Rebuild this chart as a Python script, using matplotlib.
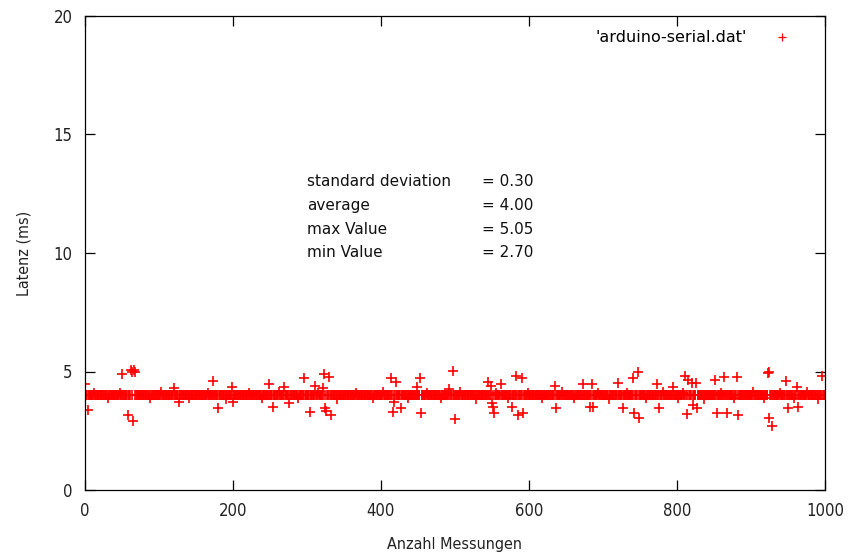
import numpy as np
import matplotlib
matplotlib.use("Agg")
import matplotlib.pyplot as plt

# Latency of 1001 serial round trips (ms); the bulk sits at 4.00 ms
n_samples = 1001
typical_latency = 4.00

# Readings that leave the main band, as (measurement index, latency in ms)
outlier_idx = [0, 4, 50, 62, 64, 66, 68, 58, 65, 120, 127, 173, 180, 198, 200,
               248, 254, 269, 276, 296, 304, 311, 322, 323, 324, 326, 330, 332,
               414, 416, 418, 420, 427, 448, 453, 454, 492, 497, 500,
               545, 549, 550, 551, 553, 562, 577, 582, 585, 590, 592, 635, 636,
               673, 682, 685, 686, 720, 727, 741, 742, 747, 749, 773, 776, 795,
               811, 814, 815, 820, 822, 826, 827, 851, 854, 864, 868, 881, 882,
               923, 924, 925, 928, 947, 950, 962, 964, 996]
outlier_val = [4.47, 3.38, 4.90, 5.05, 5.00, 5.05, 4.98, 3.16, 2.90, 4.30, 3.70, 4.60, 3.46, 4.35, 3.70,
               4.47, 3.50, 4.35, 3.67, 4.73, 3.30, 4.40, 4.30, 4.90, 3.46, 3.33, 4.77, 3.16,
               4.73, 3.30, 3.70, 4.56, 3.46, 4.35, 4.73, 3.25, 4.26, 5.03, 2.98,
               4.56, 4.39, 3.67, 3.50, 3.25, 4.47, 3.50, 4.80, 3.16, 4.73, 3.25, 4.39, 3.46,
               4.47, 3.50, 4.47, 3.50, 4.50, 3.46, 4.73, 3.25, 4.98, 3.04, 4.47, 3.46, 4.35,
               4.80, 3.20, 4.64, 4.50, 3.60, 4.50, 3.46, 4.64, 3.25, 4.77, 3.25, 4.77, 3.16,
               4.95, 5.00, 3.04, 2.70, 4.60, 3.46, 4.35, 3.50, 4.80]

# Small jitter around the typical value that gives the band its ragged edge
jitter_idx = [12, 31, 47, 88, 103, 141, 166, 190, 221, 239, 262, 288, 315, 341,
              366, 389, 403, 437, 462, 481, 507, 528, 556, 571, 598, 617, 644,
              661, 693, 708, 733, 758, 781, 801, 808, 836, 859, 877, 903, 917,
              939, 958, 976, 991]
jitter_val = [4.10, 3.90, 4.10, 3.90, 4.15, 3.90, 4.10, 3.85, 4.10, 3.90, 4.15, 3.90,
              4.10, 3.85, 4.10, 3.90, 4.15, 3.90, 4.10, 3.90, 4.15, 3.85, 4.10, 3.90,
              4.10, 3.90, 4.15, 3.90, 4.10, 3.85, 4.10, 3.90, 4.15, 3.90, 4.10, 3.85,
              4.10, 3.90, 4.15, 3.90, 4.10, 3.90, 4.15, 3.85]

stat_names = ["standard deviation", "average", "max Value", "min Value"]
stat_values = ["= 0.30", "= 4.00", "= 5.05", "= 2.70"]

x_ticks = [0, 200, 400, 600, 800, 1000]
y_ticks = [0, 5, 10, 15, 20]

latency = np.full(n_samples, typical_latency)
latency[jitter_idx] = jitter_val
latency[outlier_idx] = outlier_val
measurement = np.arange(n_samples)

fig = plt.figure(figsize=(8.53, 5.59), dpi=100)
ax = fig.add_axes([85 / 853, 1 - 490 / 559, 740 / 853, 474 / 559])

ax.plot(measurement, latency, linestyle="none", marker="+", color="#ff0000",
        markersize=7, markeredgewidth=1.2, label="'arduino-serial.dat'")

ax.set_xlim(0, 1000)
ax.set_ylim(0, 20)
ax.set_xticks(x_ticks)
ax.set_yticks(y_ticks)

tick_font = dict(family="DejaVu Sans", stretch="condensed", size=11.5)
ax.tick_params(direction="in", length=7, width=0.9, top=True, right=True,
               pad=9, colors="black")
for lab in ax.get_xticklabels() + ax.get_yticklabels():
    lab.set_fontfamily("DejaVu Sans")
    lab.set_fontstretch("condensed")
    lab.set_fontsize(12)
    lab.set_color("#222222")
for s in ax.spines.values():
    s.set_linewidth(0.9)

ax.set_xlabel("Anzahl Messungen", fontdict=tick_font, color="#222222", labelpad=12)
ax.set_ylabel("Latenz (ms)", fontdict=tick_font, color="#222222", labelpad=16)

# Summary statistics block
for i, (name, val) in enumerate(zip(stat_names, stat_values)):
    y = 13 - i
    ax.text(300, y, name, fontsize=11, va="center", ha="left", color="#111111")
    ax.text(537, y, val, fontsize=11, va="center", ha="left", color="#111111")

leg = ax.legend(loc="upper right", frameon=False, markerfirst=False,
                fontsize=11.5, handlelength=1.5, handletextpad=1.5,
                borderaxespad=0.5, bbox_to_anchor=(0.978, 1.0))
for h in leg.legend_handles:
    h.set_markersize(6)
    h.set_markeredgewidth(0.9)

fig.savefig("out.png", dpi=100)
